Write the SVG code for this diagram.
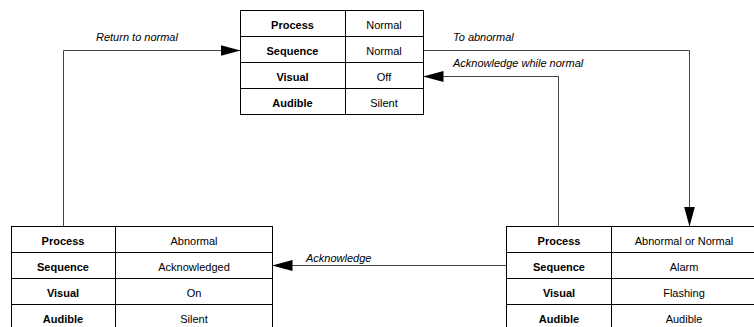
<svg xmlns="http://www.w3.org/2000/svg" width="754" height="327" viewBox="0 0 754 327">
  <style>
    .cell { fill: #fff; stroke: #000; stroke-width: 1; }
    .grid { stroke: #000; stroke-width: 1; fill: none; }
    .key { font-family: "Liberation Sans", Arial, sans-serif; font-size: 11px; font-weight: bold; text-anchor: middle; fill: #000; }
    .val { font-family: "Liberation Sans", Arial, sans-serif; font-size: 11px; text-anchor: middle; fill: #000; }
    .lbl { font-family: "Liberation Sans", Arial, sans-serif; font-size: 11px; font-style: italic; fill: #000; }
    .wire { stroke: #444; stroke-width: 1; fill: none; marker-end: url(#arrow); }
  </style>
  <defs>
    <marker id="arrow" markerUnits="userSpaceOnUse" markerWidth="20" markerHeight="11" refX="20" refY="5.5" orient="auto">
      <path d="M0,0 L20,5.5 L0,11 Z" fill="#000"/>
    </marker>
  </defs>
  <rect width="754" height="327" fill="#fff"/>

  <!-- state: normal -->
  <g id="state-normal">
    <rect class="cell" x="240.5" y="10.5" width="183" height="104"/>
    <path class="grid" d="M345.5,10.5 V114.5 M240.5,36.5 H423.5 M240.5,62.5 H423.5 M240.5,88.5 H423.5"/>
    <text class="key" x="292.5" y="28.5">Process</text>
    <text class="val" x="384" y="28.5">Normal</text>
    <text class="key" x="292.5" y="54.5">Sequence</text>
    <text class="val" x="384" y="54.5">Normal</text>
    <text class="key" x="292.5" y="80.5">Visual</text>
    <text class="val" x="384" y="80.5">Off</text>
    <text class="key" x="292.5" y="106.5">Audible</text>
    <text class="val" x="384" y="106.5">Silent</text>
  </g>

  <!-- state: acknowledged -->
  <g id="state-acknowledged">
    <rect class="cell" x="11.5" y="226.5" width="261" height="104"/>
    <path class="grid" d="M115.5,226.5 V330.5 M11.5,252.5 H272.5 M11.5,278.5 H272.5 M11.5,304.5 H272.5"/>
    <text class="key" x="63" y="244.5">Process</text>
    <text class="val" x="194" y="244.5">Abnormal</text>
    <text class="key" x="63" y="270.5">Sequence</text>
    <text class="val" x="194" y="270.5">Acknowledged</text>
    <text class="key" x="63" y="296.5">Visual</text>
    <text class="val" x="194" y="296.5">On</text>
    <text class="key" x="63" y="322.5">Audible</text>
    <text class="val" x="194" y="322.5">Silent</text>
  </g>

  <!-- state: alarm (runs past the right edge) -->
  <g id="state-alarm">
    <rect class="cell" x="506.5" y="226.5" width="250" height="104"/>
    <path class="grid" d="M611.5,226.5 V330.5 M506.5,252.5 H756 M506.5,278.5 H756 M506.5,304.5 H756"/>
    <text class="key" x="559" y="244.5">Process</text>
    <text class="val" x="684" y="244.5">Abnormal or Normal</text>
    <text class="key" x="559" y="270.5">Sequence</text>
    <text class="val" x="684" y="270.5">Alarm</text>
    <text class="key" x="559" y="296.5">Visual</text>
    <text class="val" x="684" y="296.5">Flashing</text>
    <text class="key" x="559" y="322.5">Audible</text>
    <text class="val" x="684" y="322.5">Audible</text>
  </g>

  <!-- transitions -->
  <g id="connectors">
    <path class="wire" d="M63.5,226.5 V50.5 H240.5"/>
    <path class="wire" d="M423.5,50.5 H689.5 V226.5"/>
    <path class="wire" d="M558.5,226.5 V76.5 H423.5"/>
    <path class="wire" d="M506.5,265.5 H272.5"/>
    <text class="lbl" x="96" y="41">Return to normal</text>
    <text class="lbl" x="453" y="41">To abnormal</text>
    <text class="lbl" x="453" y="67">Acknowledge while normal</text>
    <text class="lbl" x="306" y="262">Acknowledge</text>
  </g>
</svg>
